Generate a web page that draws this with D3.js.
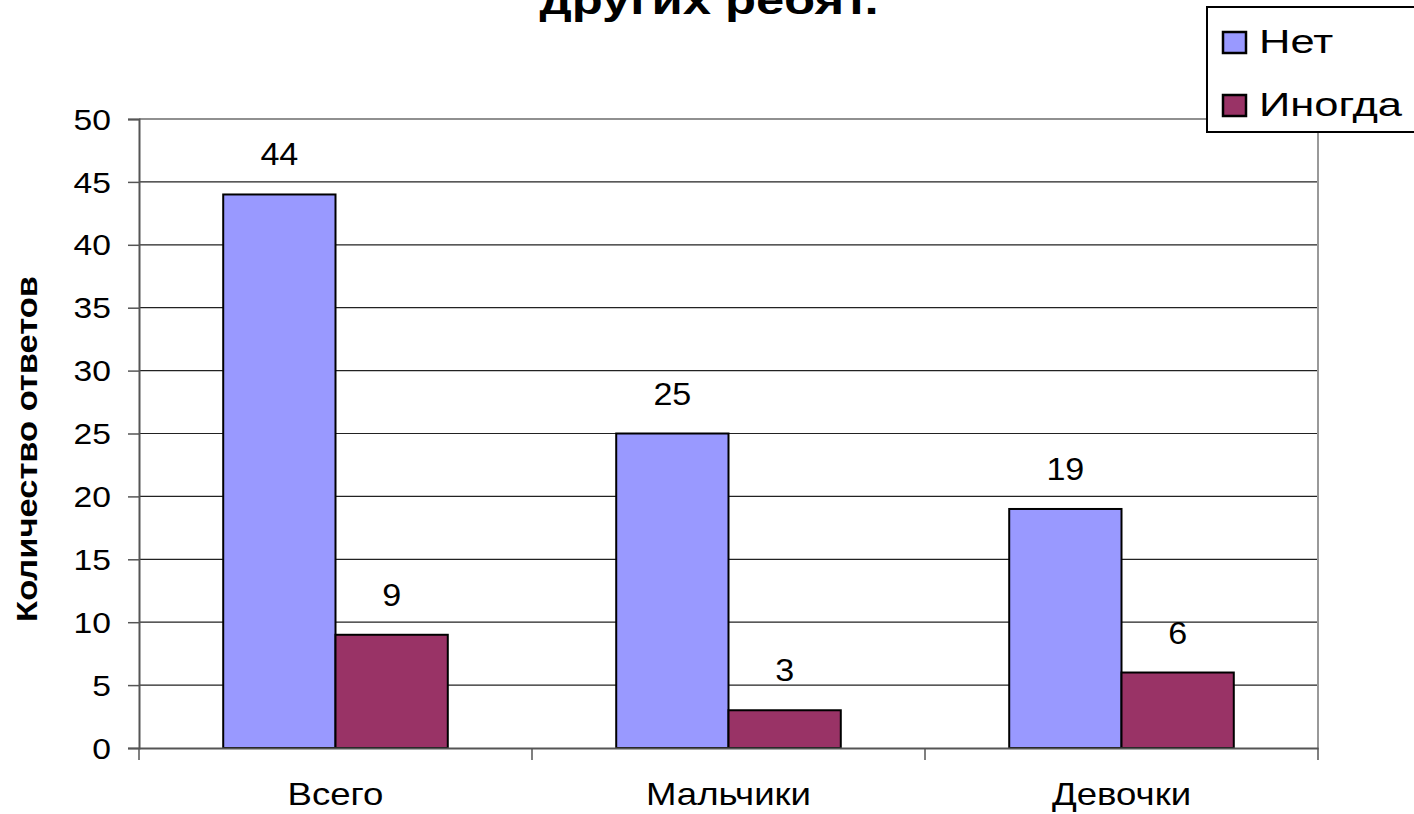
<!DOCTYPE html>
<html lang="ru">
<head>
<meta charset="UTF-8">
<title>Количество ответов</title>
<script src="https://d3js.org/d3.v7.min.js"></script>
<style>
  body { margin: 0; background: #fff; }
  text { font-family: "Liberation Sans", Arial, sans-serif; }
</style>
</head>
<body>
<svg width="1414" height="814"></svg>
<script>
  const categories = ["Всего", "Мальчики", "Девочки"];
  const seriesNames = ["Нет", "Иногда"];
  const net = [44, 25, 19];
  const inogda = [9, 3, 6];
  const yTicks = [0, 5, 10, 15, 20, 25, 30, 35, 40, 45, 50];
  const colors = ["#9999ff", "#993366"];

  const plotL = 139, plotR = 1318, plotT = 119, plotB = 748;
  const stretch = 1.16; // the original text looks horizontally widened
  const svg = d3.select("svg");

  const x = d3.scaleBand().domain(categories).range([plotL, plotR]);
  const y = d3.scaleLinear().domain([0, 50]).range([plotB, plotT]);
  const inner = d3.scaleBand().domain(seriesNames)
      .range([0, x.bandwidth()]).paddingOuter(0.75).paddingInner(0);

  // gridlines
  svg.append("g").selectAll("line").data(yTicks.filter(d => d > 0)).join("line")
      .attr("x1", plotL).attr("x2", plotR)
      .attr("y1", d => y(d)).attr("y2", d => y(d))
      .attr("stroke", "#222").attr("stroke-width", 1.2);

  // right border of plot area
  svg.append("line")
      .attr("x1", plotR).attr("x2", plotR).attr("y1", plotT).attr("y2", plotB)
      .attr("stroke", "#999").attr("stroke-width", 2);

  // bars
  const data = categories.map((c, i) => ({c, vals: [net[i], inogda[i]]}));
  const grp = svg.append("g").selectAll("g").data(data).join("g")
      .attr("transform", d => `translate(${x(d.c)},0)`);
  grp.selectAll("rect").data(d => d.vals.map((v, k) => ({k, v}))).join("rect")
      .attr("x", d => inner(seriesNames[d.k]))
      .attr("width", inner.bandwidth())
      .attr("y", d => y(d.v))
      .attr("height", d => y(0) - y(d.v))
      .attr("fill", d => colors[d.k])
      .attr("stroke", "#000").attr("stroke-width", 2);
  grp.selectAll("text").data(d => d.vals.map((v, k) => ({k, v}))).join("text")
      .attr("transform", d => `translate(${inner(seriesNames[d.k]) + inner.bandwidth() / 2},${y(d.v) - 29}) scale(1.1,1)`)
      .attr("text-anchor", "middle")
      .attr("font-size", 31).attr("fill", "#000")
      .text(d => d.v);

  // y axis
  const yAxis = svg.append("g").attr("transform", `translate(${plotL},0)`)
      .call(d3.axisLeft(y).tickValues(yTicks).tickSize(11));
  yAxis.select(".domain").attr("stroke", "#555").attr("stroke-width", 2);
  yAxis.selectAll(".tick line").attr("stroke", "#555").attr("stroke-width", 1.5);
  yAxis.selectAll(".tick text")
      .attr("x", 0).attr("dy", "0.35em")
      .attr("transform", `translate(-28,0) scale(${stretch},1)`)
      .attr("font-size", 29).attr("fill", "#000")
      .attr("font-family", "Liberation Sans, Arial, sans-serif");

  // x axis
  const xAxis = svg.append("g").attr("transform", `translate(0,${plotB})`)
      .call(d3.axisBottom(x).tickSize(0));
  xAxis.select(".domain").attr("stroke", "#555").attr("stroke-width", 2);
  xAxis.selectAll(".tick text")
      .attr("y", 0).attr("dy", 0)
      .attr("transform", `translate(0,57) scale(1.18,1)`)
      .attr("font-size", 31).attr("fill", "#000")
      .attr("font-family", "Liberation Sans, Arial, sans-serif");
  svg.append("g").selectAll("line").data(categories.concat(["end"])).join("line")
      .attr("x1", d => d === "end" ? plotR : x(d))
      .attr("x2", d => d === "end" ? plotR : x(d))
      .attr("y1", plotB).attr("y2", plotB + 12)
      .attr("stroke", "#555").attr("stroke-width", 1.5);

  // y axis title
  svg.append("text")
      .attr("transform", `translate(37,449) rotate(-90) scale(1.15,1)`)
      .attr("text-anchor", "middle")
      .attr("font-size", 30).attr("font-weight", "bold")
      .text("Количество ответов");

  // chart title (lower line, top cut off as in the original)
  svg.append("text")
      .attr("transform", "translate(709,14) scale(1.27,1)")
      .attr("text-anchor", "middle")
      .attr("font-size", 40).attr("font-weight", "bold")
      .text("других ребят.");

  // legend
  const lg = svg.append("g");
  lg.append("rect").attr("x", 1207).attr("y", 7).attr("width", 220).attr("height", 125)
      .attr("fill", "#fff").attr("stroke", "#000").attr("stroke-width", 2);
  seriesNames.forEach((s, i) => {
    lg.append("rect").attr("x", 1223).attr("y", 32 + i * 63).attr("width", 23).attr("height", 21)
        .attr("fill", colors[i]).attr("stroke", "#000").attr("stroke-width", 2.5);
    lg.append("text").attr("transform", `translate(1259,${53 + i * 63}) scale(1.28,1)`)
        .attr("font-size", 34).attr("fill", "#000").text(s);
  });
</script>
</body>
</html>
